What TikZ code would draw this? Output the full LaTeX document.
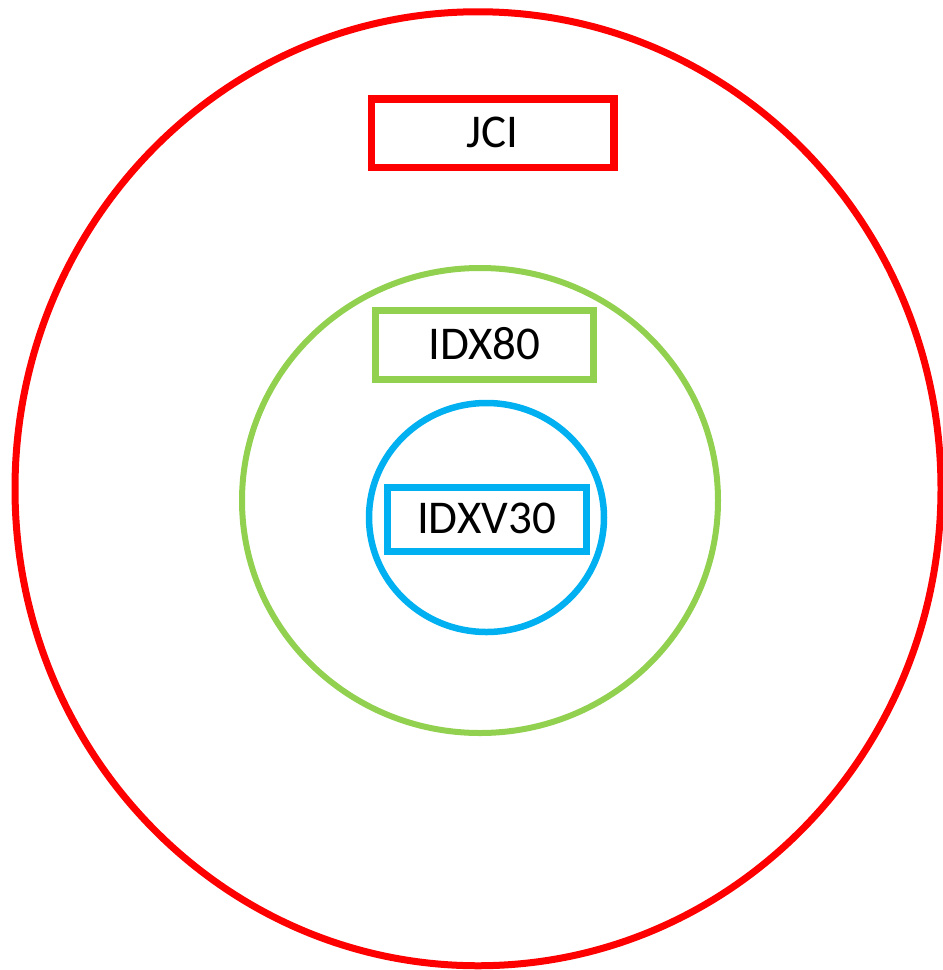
\documentclass[tikz,border=0pt]{standalone}
\usepackage{fontspec}
\setmainfont{Carlito}
\usetikzlibrary{shapes.geometric}
\definecolor{cred}{HTML}{FF0000}
\definecolor{cgreen}{HTML}{92D050}
\definecolor{cblue}{HTML}{00B0F0}
\begin{document}
\begin{tikzpicture}[x=1pt,y=-1pt,
  ring/.style={ellipse,draw,inner sep=0pt,outer sep=0pt},
  lbox/.style={rectangle,draw,line width=7.5pt,inner sep=0pt,font=\fontsize{47}{52}\selectfont,text height=29pt,text depth=0pt}]
\useasboundingbox (0,0) rectangle (943,970);
\node[ring,draw=cred,line width=7pt,minimum width=926pt,minimum height=954pt] (outer) at (478,488.75) {};
\node[ring,draw=cgreen,line width=6pt,minimum width=476pt,minimum height=465pt] (mid) at (480,500.5) {};
\node[ring,draw=cblue,line width=6.5pt,minimum width=235pt,minimum height=229pt] (inner) at (486.5,517.5) {};
\node[lbox,draw=cred,minimum width=242.5pt,minimum height=68.5pt] (jci) at (492.75,133.25) {JCI};
\node[lbox,draw=cgreen,line width=7pt,minimum width=217.5pt,minimum height=68.5pt] (idx80) at (484.25,344.75) {IDX80};
\node[lbox,draw=cblue,line width=7pt,minimum width=199pt,minimum height=64pt] (idxv30) at (486.5,519) {IDXV30};
\end{tikzpicture}
\end{document}
